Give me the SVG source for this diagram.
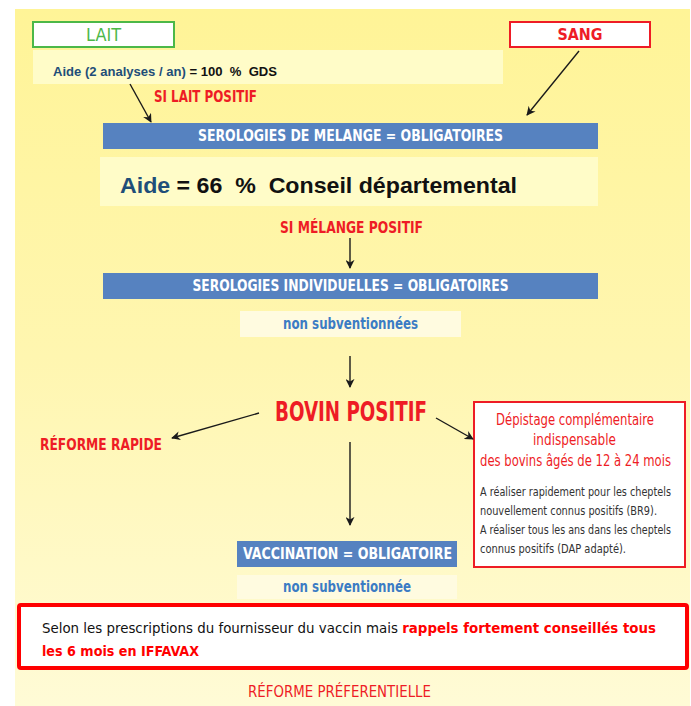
<svg xmlns="http://www.w3.org/2000/svg" width="691" height="706" viewBox="0 0 691 706">
<defs>
<linearGradient id="bg" x1="0" y1="0" x2="0" y2="1">
<stop offset="0" stop-color="#fff497"/>
<stop offset="0.5" stop-color="#fff6b0"/>
<stop offset="1" stop-color="#fffbd6"/>
</linearGradient>
<marker id="ah" viewBox="0 0 10 10" refX="9" refY="5" markerWidth="9" markerHeight="9" markerUnits="userSpaceOnUse" orient="auto">
<path d="M0,0 L10,5 L0,10 L3,5 Z" fill="#1a1a1a"/>
</marker>
<style>
.n{font-family:"Liberation Sans Narrow","DejaVu Sans Condensed","Liberation Sans",sans-serif}
.w{font-family:"Liberation Sans","DejaVu Sans",sans-serif}
.b{font-weight:bold}
.red{fill:#ee1c25}
.wh{fill:#ffffff}
.blue{fill:#1f4e79}
.lblue{fill:#3b7cc4}
.bar{fill:#5682c0}
.pale{fill:#fffcc8}
.pale2{fill:#fffbe0}
.body{fill:#333333;font-size:12.5px}
.c{stroke:#1a1a1a;stroke-width:1.4;fill:none;marker-end:url(#ah)}
</style>
</defs>
<rect x="0" y="0" width="691" height="706" fill="#ffffff"/>
<rect x="15" y="9" width="675" height="697" fill="url(#bg)"/>

<g id="lait">
<rect x="33" y="22" width="141" height="25" fill="#ffffff" stroke="#4cb848" stroke-width="2"/>
<text class="n" x="103.5" y="41" font-size="18" text-anchor="middle" fill="#4cb848" textLength="35" lengthAdjust="spacingAndGlyphs">LAIT</text>
</g>

<g id="aide-gds">
<rect x="33" y="50" width="470" height="34" class="pale"/>
<text class="w b" x="53" y="76" font-size="12" textLength="224" lengthAdjust="spacingAndGlyphs"><tspan class="blue">Aide (2 analyses / an)</tspan><tspan fill="#111"> = 100&#160; %&#160; GDS</tspan></text>
</g>

<g id="sang">
<rect x="510" y="22" width="140" height="25" fill="#ffffff" stroke="#ee1c25" stroke-width="2"/>
<text class="n b red" x="580" y="40" font-size="16" text-anchor="middle" textLength="45" lengthAdjust="spacingAndGlyphs">SANG</text>
</g>

<g id="si-lait">
<text class="n b red" x="154" y="102" font-size="15" textLength="103" lengthAdjust="spacingAndGlyphs">SI LAIT POSITIF</text>
</g>

<g id="sero-melange">
<rect x="103" y="123" width="495" height="26" class="bar"/>
<text class="n b wh" x="350.5" y="141" font-size="15" text-anchor="middle" textLength="305" lengthAdjust="spacingAndGlyphs">SEROLOGIES DE MELANGE = OBLIGATOIRES</text>
</g>

<g id="aide-cd">
<rect x="100" y="157" width="498" height="49" class="pale"/>
<text class="w b" x="120" y="193" font-size="22" textLength="397" lengthAdjust="spacingAndGlyphs"><tspan class="blue">Aide</tspan><tspan fill="#111"> = 66&#160; %&#160; Conseil départemental</tspan></text>
</g>

<g id="si-melange">
<text class="n b red" x="351.5" y="233" font-size="15" text-anchor="middle" textLength="143" lengthAdjust="spacingAndGlyphs">SI MÉLANGE POSITIF</text>
</g>

<g id="sero-indiv">
<rect x="103" y="273" width="495" height="26" class="bar"/>
<text class="n b wh" x="350.5" y="291" font-size="15" text-anchor="middle" textLength="316" lengthAdjust="spacingAndGlyphs">SEROLOGIES INDIVIDUELLES = OBLIGATOIRES</text>
</g>

<g id="non-sub-1">
<rect x="240" y="311" width="221" height="26" class="pale2"/>
<text class="n b lblue" x="350.5" y="329" font-size="15" text-anchor="middle" textLength="135" lengthAdjust="spacingAndGlyphs">non subventionnées</text>
</g>

<g id="bovin">
<text class="n b red" x="351" y="421" font-size="27" text-anchor="middle" textLength="152" lengthAdjust="spacingAndGlyphs">BOVIN POSITIF</text>
</g>

<g id="reforme-rapide">
<text class="n b red" x="40" y="450" font-size="15" textLength="122" lengthAdjust="spacingAndGlyphs">RÉFORME RAPIDE</text>
</g>

<g id="depistage">
<rect x="474" y="402" width="211" height="165" fill="#ffffff" stroke="#ee1c25" stroke-width="2"/>
<text class="n red" transform="translate(575,425) scale(0.8,1)" font-size="16" text-anchor="middle" textLength="197.5" lengthAdjust="spacingAndGlyphs">Dépistage complémentaire</text>
<text class="n red" transform="translate(574.5,445) scale(0.8,1)" font-size="16" text-anchor="middle" textLength="103.75" lengthAdjust="spacingAndGlyphs">indispensable</text>
<text class="n red" transform="translate(575.5,466) scale(0.8,1)" font-size="16" text-anchor="middle" textLength="238.75" lengthAdjust="spacingAndGlyphs">des bovins âgés de 12 à 24 mois</text>
<text class="n body" transform="translate(480,496) scale(0.8,1)" textLength="238.75" lengthAdjust="spacingAndGlyphs">A réaliser rapidement pour les cheptels</text>
<text class="n body" transform="translate(480,515) scale(0.8,1)" textLength="221.25" lengthAdjust="spacingAndGlyphs">nouvellement connus positifs (BR9).</text>
<text class="n body" transform="translate(480,534) scale(0.8,1)" textLength="238.75" lengthAdjust="spacingAndGlyphs">A réaliser tous les ans dans les cheptels</text>
<text class="n body" transform="translate(480,553) scale(0.8,1)" textLength="182.5" lengthAdjust="spacingAndGlyphs">connus positifs (DAP adapté).</text>
</g>

<g id="vaccination">
<rect x="237" y="541" width="220" height="26" class="bar"/>
<text class="n b wh" x="347.5" y="559" font-size="15" text-anchor="middle" textLength="209" lengthAdjust="spacingAndGlyphs">VACCINATION = OBLIGATOIRE</text>
</g>

<g id="non-sub-2">
<rect x="237" y="575" width="220" height="24" class="pale2"/>
<text class="n b lblue" x="347" y="592" font-size="15" text-anchor="middle" textLength="128" lengthAdjust="spacingAndGlyphs">non subventionnée</text>
</g>

<g id="rappels">
<rect x="19" y="605" width="668" height="63" rx="2" fill="#ffffff" stroke="#ff0000" stroke-width="4"/>
<text class="n" x="42" y="633" font-size="14.5" textLength="614" lengthAdjust="spacingAndGlyphs"><tspan fill="#111">Selon les prescriptions du fournisseur du vaccin mais </tspan><tspan class="b" fill="#ff0000">rappels fortement conseillés tous</tspan></text>
<text class="n b" x="42" y="656" font-size="14.5" fill="#ff0000" textLength="157" lengthAdjust="spacingAndGlyphs">les 6 mois en IFFAVAX</text>
</g>

<g id="reforme-pref">
<text class="n red" x="339.5" y="697" font-size="15" text-anchor="middle" textLength="183" lengthAdjust="spacingAndGlyphs">RÉFORME PRÉFERENTIELLE</text>
</g>

<g id="connectors">
<line class="c" x1="130" y1="84" x2="151" y2="122"/>
<line class="c" x1="579" y1="51" x2="527" y2="115"/>
<line class="c" x1="350" y1="238" x2="350" y2="268"/>
<line class="c" x1="350" y1="356" x2="350" y2="387"/>
<line class="c" x1="259" y1="413" x2="172" y2="438"/>
<line class="c" x1="436" y1="418" x2="473" y2="439"/>
<line class="c" x1="350" y1="442" x2="350" y2="525"/>
</g>
</svg>
